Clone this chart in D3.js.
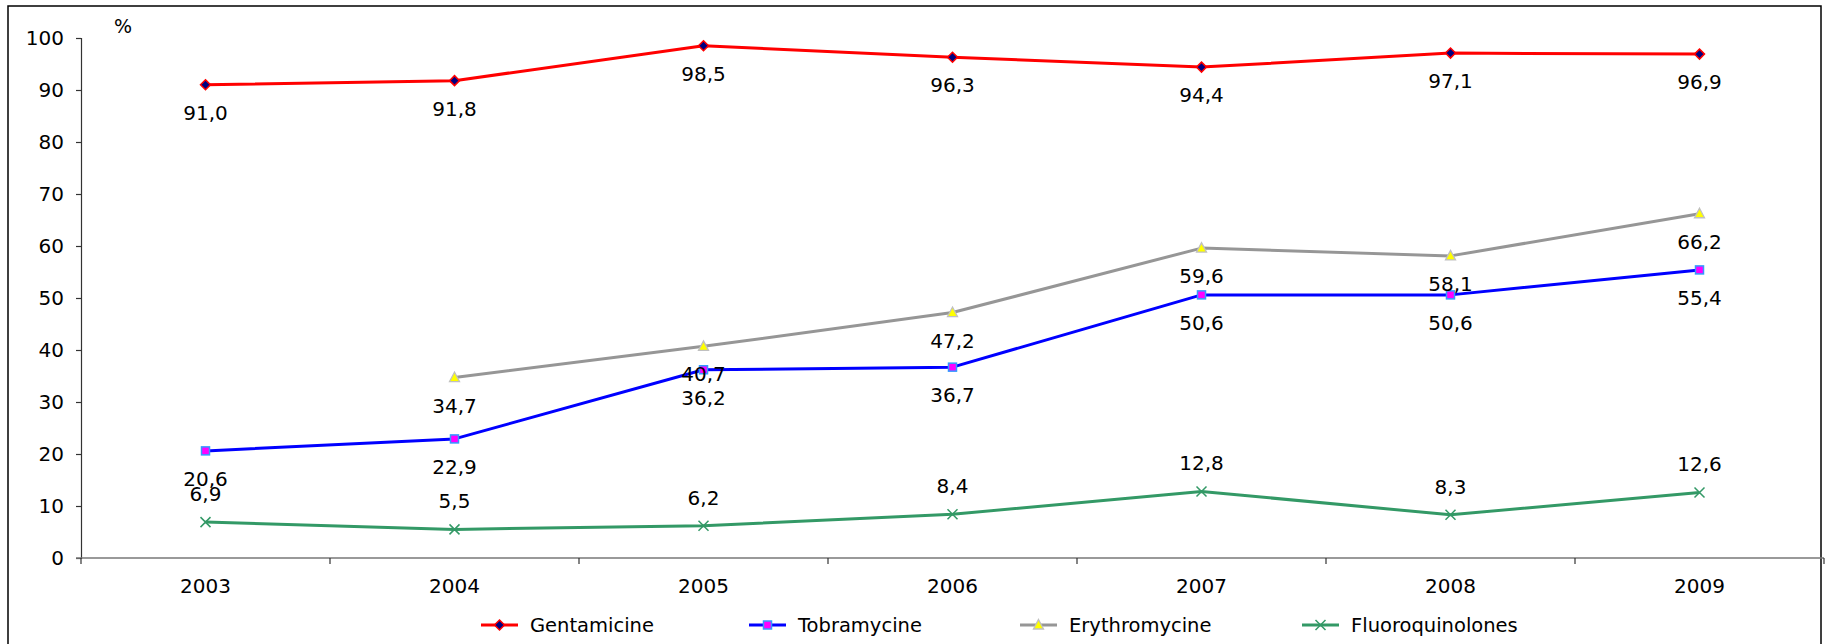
<!DOCTYPE html>
<html><head><meta charset="utf-8">
<script src="https://cdn.jsdelivr.net/npm/d3@7"></script>
<style>
html,body{margin:0;padding:0;background:#fff;}
svg{display:block;}
text{font-family:"DejaVu Sans",Verdana,sans-serif;fill:#000;}
</style></head>
<body>
<script>
const years = ["2003","2004","2005","2006","2007","2008","2009"];
const gentamicine = [91.0, 91.8, 98.5, 96.3, 94.4, 97.1, 96.9];
const tobramycine = [20.6, 22.9, 36.2, 36.7, 50.6, 50.6, 55.4];
const erythromycine = [null, 34.7, 40.7, 47.2, 59.6, 58.1, 66.2];
const fluoroquinolones = [6.9, 5.5, 6.2, 8.4, 12.8, 8.3, 12.6];
const yTicks = [0,10,20,30,40,50,60,70,80,90,100];
const seriesNames = ["Gentamicine","Tobramycine","Erythromycine","Fluoroquinolones"];

const W = 1826, H = 644;
const svg = d3.select("body").append("svg").attr("width", W).attr("height", H);

// outer frame
svg.append("rect").attr("x", 8).attr("y", 6).attr("width", 1813).attr("height", 660)
  .attr("fill", "none").attr("stroke", "#000").attr("stroke-width", 1.5);

const x = d3.scaleBand().domain(years).range([81, 1824]).padding(0);
const y = d3.scaleLinear().domain([0, 100]).range([558, 38]);
const cx = d => x(d) + x.bandwidth() / 2;

// y axis
const yAxis = svg.append("g").attr("transform", "translate(81,0)")
  .call(d3.axisLeft(y).tickValues(yTicks).tickSize(5).tickPadding(12).tickFormat(d3.format("d")));
yAxis.selectAll("path,line").attr("stroke", "#333").attr("stroke-width", 1.2);
yAxis.selectAll("text").attr("font-size", 20).attr("font-family", "DejaVu Sans").attr("fill", "#000");

// x axis: labels centered, ticks at band edges
const xAxis = svg.append("g").attr("transform", "translate(0,558)")
  .call(d3.axisBottom(x).tickSize(0).tickPadding(21));
xAxis.select("path").remove();
xAxis.selectAll("text").attr("font-size", 20).attr("font-family", "DejaVu Sans").attr("fill", "#000");
svg.append("line").attr("x1", 76).attr("x2", 1824).attr("y1", 558).attr("y2", 558)
  .attr("stroke", "#777").attr("stroke-width", 1.5);
const edges = years.map(d => x(d)).concat([x.range()[1]]);
svg.selectAll(".xt").data(edges).enter().append("line")
  .attr("x1", d => d).attr("x2", d => d).attr("y1", 558).attr("y2", 564)
  .attr("stroke", "#333").attr("stroke-width", 1.2);

svg.append("text").attr("x", 123).attr("y", 33).attr("text-anchor", "middle")
  .attr("font-size", 19).text("%");

const series = [
  {name: seriesNames[0], values: gentamicine, color: "#FF0000", marker: "diamond", fill: "#000080", stroke: "#FF0000", labelDy: 35},
  {name: seriesNames[1], values: tobramycine, color: "#0000FF", marker: "square", fill: "#FF00FF", stroke: "#3399FF", labelDy: 35},
  {name: seriesNames[2], values: erythromycine, color: "#969696", marker: "triangle", fill: "#FFFF00", stroke: "#C0C0C0", labelDy: 35},
  {name: seriesNames[3], values: fluoroquinolones, color: "#339966", marker: "x", fill: "none", stroke: "#339966", labelDy: -21}
];

function drawMarker(g, type, px, py, s) {
  if (type === "diamond") {
    g.append("path").attr("d", `M${px},${py-5}L${px+5},${py}L${px},${py+5}L${px-5},${py}Z`)
      .attr("fill", s.fill).attr("stroke", s.stroke).attr("stroke-width", 1.5);
  } else if (type === "square") {
    g.append("rect").attr("x", px-4).attr("y", py-4).attr("width", 8).attr("height", 8)
      .attr("fill", s.fill).attr("stroke", s.stroke).attr("stroke-width", 1.5);
  } else if (type === "triangle") {
    g.append("path").attr("d", `M${px},${py-5.5}L${px+5},${py+4}L${px-5},${py+4}Z`)
      .attr("fill", s.fill).attr("stroke", s.stroke).attr("stroke-width", 1.3);
  } else {
    g.append("path").attr("d", `M${px-5},${py-5}L${px+5},${py+5}M${px+5},${py-5}L${px-5},${py+5}`)
      .attr("fill", "none").attr("stroke", s.stroke).attr("stroke-width", 1.5);
  }
}

const line = d3.line().defined(d => d.v !== null).x(d => cx(d.year)).y(d => y(d.v));
const fmt = v => v.toFixed(1).replace(".", ",");

series.forEach(s => {
  const pts = years.map((yr, i) => ({year: yr, v: s.values[i]}));
  svg.append("path").datum(pts).attr("d", line).attr("fill", "none")
    .attr("stroke", s.color).attr("stroke-width", 3).attr("stroke-linejoin", "round");
  const g = svg.append("g");
  pts.filter(p => p.v !== null).forEach(p => drawMarker(g, s.marker, cx(p.year), y(p.v), s));
});
// labels on top
series.forEach(s => {
  const pts = years.map((yr, i) => ({year: yr, v: s.values[i]})).filter(p => p.v !== null);
  svg.append("g").selectAll("text").data(pts).enter().append("text")
    .attr("x", d => cx(d.year)).attr("y", d => y(d.v) + s.labelDy)
    .attr("text-anchor", "middle").attr("font-size", 20).text(d => fmt(d.v));
});

// legend
const legX = [481, 749, 1020, 1302];
const legY = 625;
series.forEach((s, i) => {
  const g = svg.append("g");
  g.append("line").attr("x1", legX[i]).attr("x2", legX[i] + 37).attr("y1", legY).attr("y2", legY)
    .attr("stroke", s.color).attr("stroke-width", 3);
  drawMarker(g, s.marker, legX[i] + 18.5, legY, s);
  g.append("text").attr("x", legX[i] + 49).attr("y", legY + 7)
    .attr("font-family", "DejaVu Sans Condensed").attr("font-size", 19.5).text(s.name);
});
</script>
</body></html>
